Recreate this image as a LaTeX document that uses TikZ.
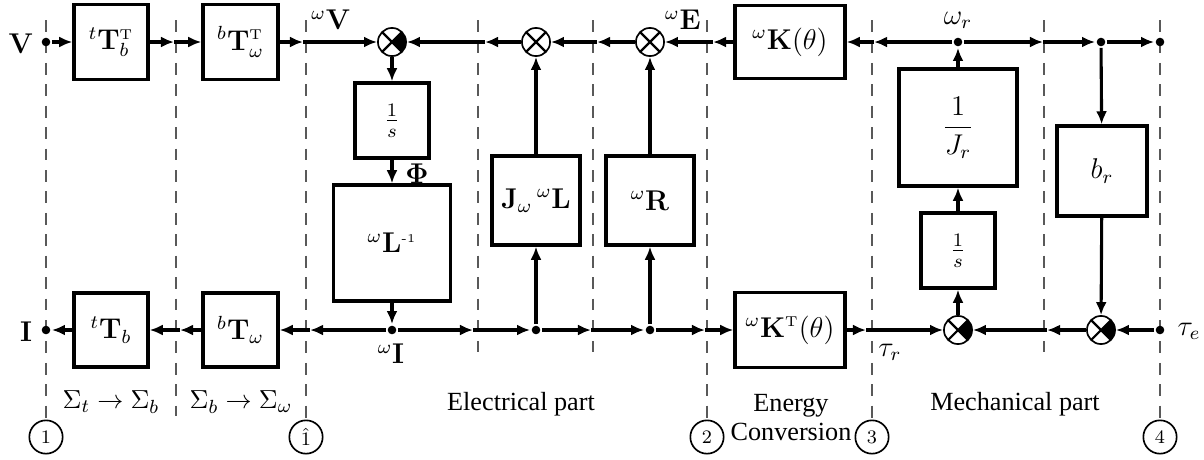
\documentclass[tikz,border=0pt]{standalone}
\usepackage[no-math]{fontspec}
\newfontfamily\tnr{Liberation Serif}
\usetikzlibrary{arrows.meta}
\begin{document}
\begin{tikzpicture}[x=0.42pt,y=-0.42pt,
  line width=1.3pt,
  box/.style={draw, line width=1.4pt, inner sep=0pt, font=\large},
  bx/.style 2 args={box, minimum width=#1*0.42pt, minimum height=#2*0.42pt},
  sumj/.style={circle, draw, line width=0.7pt, fill=white, minimum size=11.8pt, inner sep=0pt,
    path picture={\draw[black, line width=0.9pt] (path picture bounding box.north west) -- (path picture bounding box.south east)
      (path picture bounding box.north east) -- (path picture bounding box.south west);}},
  sumn/.style={circle, draw, line width=0.7pt, fill=white, minimum size=11.8pt, inner sep=0pt,
    path picture={\fill[black] (path picture bounding box.center) -- (path picture bounding box.north east) -- (path picture bounding box.south east) -- cycle;
      \draw[black, line width=0.9pt] (path picture bounding box.north west) -- (path picture bounding box.south east)
      (path picture bounding box.north east) -- (path picture bounding box.south west);}},
  dot/.style={circle, fill, inner sep=0pt, minimum size=3.6pt},
  arr/.style={-{Latex[length=5.5pt,width=4.6pt]}},
  sep/.style={draw=black!65, line width=0.5pt, dash pattern=on 5pt off 4pt},
  num/.style={circle, draw, line width=0.7pt, minimum size=14pt, inner sep=0pt, font=\footnotesize, fill=white},
  lbl/.style={font=\large, inner sep=0pt},
  txt/.style={font=\tnr\fontsize{11}{12.2}\selectfont, inner sep=0pt},
  mlbl/.style={font=\fontsize{11}{13}\selectfont, inner sep=0pt}
]
\useasboundingbox (0,0) rectangle (1204,459);

% separators
\foreach \x in {46,306,707,872,1160}
  \draw[sep] (\x,20) -- (\x,421);
\draw[sep] (176,20) -- (176,416);
\foreach \x in {478,593,1044}
  \draw[sep] (\x,20) -- (\x,352);

% circled numbers
\node[num] (n1) at (46,437) {1};
\node[num] (n1h) at (306,437) {$\hat{1}$};
\node[num] (n2) at (707,437) {2};
\node[num] (n3) at (872,437) {3};
\node[num] (n4) at (1160,437) {4};

% boxes
\node[bx={74}{75}] (T1) at (111,42) {$^{t}\mathbf{T}_b^{\scriptscriptstyle\mathrm{T}}$};
\node[bx={75}{75}] (T2) at (240.5,42) {$^{b}\mathbf{T}_\omega^{\scriptscriptstyle\mathrm{T}}$};
\node[bx={74}{74}] (T3) at (111,330) {$^{t}\mathbf{T}_b$};
\node[bx={75}{74}] (T4) at (240.5,330) {$^{b}\mathbf{T}_\omega$};
\node[bx={74}{75}] (Is) at (392,120.5) {$\frac{1}{s}$};
\node[bx={117}{116}] (Linv) at (392,243) {$^{\omega}\mathbf{L}^{\mbox{\tiny -1}}$};
\node[bx={88}{89}] (JL) at (536,200.5) {$\mathbf{J}_\omega\,{}^{\omega}\mathbf{L}$};
\node[bx={88}{89}] (R) at (650,200.5) {$^{\omega}\mathbf{R}$};
\node[bx={110}{73}] (K) at (790,42) {$^{\omega}\mathbf{K}(\theta)$};
\node[bx={110}{75}] (KT) at (790,330) {$^{\omega}\mathbf{K}^{\scriptscriptstyle\mathrm{T}}(\theta)$};
\node[bx={118}{117}] (Jr) at (958,127.5) {$\displaystyle\frac{1}{J_r}$};
\node[bx={74}{75}] (Ms) at (958,250.5) {$\frac{1}{s}$};
\node[bx={90}{90}] (br) at (1102,171) {$b_r$};

% junctions
\node[sumn] (S1) at (392,42) {};
\node[sumj] (S2) at (536,42) {};
\node[sumj] (S3) at (650,42) {};
\node[sumn] (M1) at (958,330) {};
\node[sumn] (M2) at (1101,330) {};

% dots
\node[dot] (Vd) at (46,42) {};
\node[dot] (Id) at (46,330) {};
\node[dot] (D1) at (392,330) {};
\node[dot] (D2) at (536,330) {};
\node[dot] (D3) at (650,330) {};
\node[dot] (Wr) at (958,42) {};
\node[dot] (Bd) at (1101,42) {};
\node[dot] (Ed) at (1160,42) {};
\node[dot] (Te) at (1160,330) {};

% crossing coordinates
\coordinate (a1) at (174,42);
\coordinate (a2) at (303,42);
\coordinate (a3) at (485,42);
\coordinate (a4) at (597,42);
\coordinate (a5) at (713,42);
\coordinate (a6) at (874,42);
\coordinate (a7) at (1043,42);
\coordinate (b1) at (180,330);
\coordinate (b2) at (310,330);
\coordinate (b3) at (473,330);
\coordinate (b4) at (591,330);
\coordinate (b5) at (705,330);
\coordinate (b6) at (866,330);
\coordinate (b7) at (1047,330);

% top line
\draw[arr] (Vd) -- (T1);
\draw[arr] (T1) -- (a1);
\draw[arr] (a1) -- (T2);
\draw[arr] (T2) -- (a2);
\draw[arr] (a2) -- (S1);
\draw[arr] (S2) -- (a3);
\draw[arr] (a3) -- (S1);
\draw[arr] (S3) -- (a4);
\draw[arr] (a4) -- (S2);
\draw[arr] (K) -- (a5);
\draw[arr] (a5) -- (S3);
\draw[arr] (Wr) -- (a6);
\draw[arr] (a6) -- (K);
\draw[arr] (Wr) -- (a7);
\draw[arr] (a7) -- (Bd);
\draw[arr] (Bd) -- (Ed);

% bottom line
\draw[arr] (T3) -- (Id);
\draw[arr] (T4) -- (b1);
\draw[arr] (b1) -- (T3);
\draw[arr] (D1) -- (b2);
\draw[arr] (b2) -- (T4);
\draw[arr] (D1) -- (b3);
\draw[arr] (b3) -- (D2);
\draw[arr] (D2) -- (b4);
\draw[arr] (b4) -- (D3);
\draw[arr] (D3) -- (b5);
\draw[arr] (b5) -- (KT);
\draw[arr] (KT) -- (b6);
\draw[arr] (b6) -- (M1);
\draw[arr] (Te) -- (M2);
\draw[arr] (M2) -- (b7);
\draw[arr] (b7) -- (M1);

% verticals
\draw[arr] (S1) -- (Is);
\draw[arr] (Is) -- (Linv);
\draw[arr] (Linv) -- (D1);
\draw[arr] (D2) -- (JL);
\draw[arr] (JL) -- (S2);
\draw[arr] (D3) -- (R);
\draw[arr] (R) -- (S3);
\draw[arr] (M1) -- (Ms);
\draw[arr] (Ms) -- (Jr);
\draw[arr] (Jr) -- (Wr);
\draw[arr] (Bd) -- (br);
\draw[arr] (br) -- (M2);

% labels
\node[lbl] (lV) at (21,44) {$\mathbf{V}$};
\node[lbl] (lI) at (26,332) {$\mathbf{I}$};
\node[lbl] (lwV) at (331,20) {$^{\omega}\mathbf{V}$};
\node[lbl] (lwE) at (683,20) {$^{\omega}\mathbf{E}$};
\node[lbl] (lwr) at (958,20) {$\omega_r$};
\node[lbl] (lPhi) at (417,174) {$\mathbf{\Phi}$};
\node[lbl] (lwI) at (391,354) {$^{\omega}\mathbf{I}$};
\node[lbl] (ltr) at (890,352) {$\tau_r$};
\node[lbl] (lte) at (1189,331) {$\tau_e$};

% texts
\node[mlbl] (s1) at (111,402) {$\Sigma_t \rightarrow \Sigma_b$};
\node[mlbl] (s2) at (241,402) {$\Sigma_b \rightarrow \Sigma_\omega$};
\node[txt] (ep) at (521,404) {Electrical part};
\node[txt, align=center] (ec) at (791,418) {Energy\\Conversion};
\node[txt] (mp) at (1015,404) {Mechanical part};
\end{tikzpicture}
\end{document}
